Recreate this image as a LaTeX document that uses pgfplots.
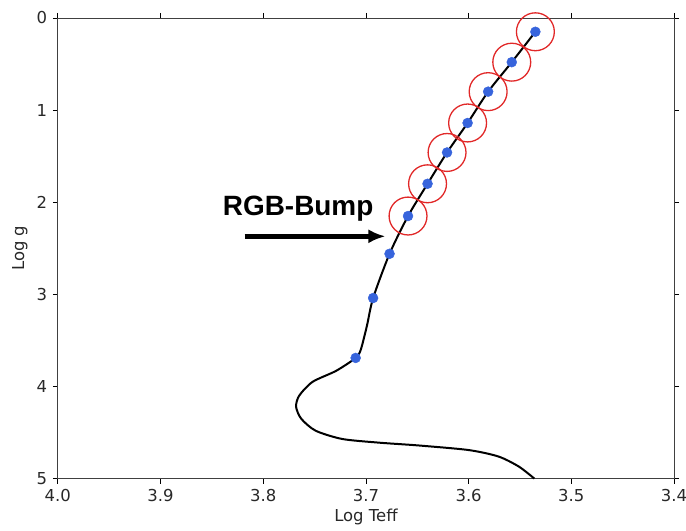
\documentclass[border=0pt]{standalone}
\usepackage{pgfplots}
\pgfplotsset{compat=1.18}
\usetikzlibrary{arrows.meta}
\usepackage{fontspec}
\setmainfont{DejaVu Sans}
\newfontfamily\arialfont{Liberation Sans}
\definecolor{dotblue}{RGB}{55,100,220}
\definecolor{ringred}{RGB}{225,40,40}
\definecolor{txtgray}{RGB}{40,40,40}
\begin{document}
\fontsize{16.5}{19}\selectfont
\begin{tikzpicture}
\begin{axis}[
  name=ax,
  scale only axis,
  width=618pt, height=462pt,
  x dir=reverse, y dir=reverse,
  xmin=3.4, xmax=4.0, ymin=0, ymax=5,
  xtick={3.4,3.5,3.6,3.7,3.8,3.9,4.0},
  ytick={0,1,2,3,4,5},
  xticklabel style={/pgf/number format/.cd,fixed,fixed zerofill,precision=1},
  /pgf/number format/assume math mode=true,
  tick align=outside,
  major tick length=5pt,
  tick style={black, line width=0.8pt},
  axis line style={black!75, line width=0.9pt},
  ticklabel style={font=\fontsize{16.5}{19}\selectfont, text=txtgray},
  xlabel={Log Teff}, ylabel={Log g},
  label style={font=\fontsize{16.5}{19}\selectfont, text=txtgray},
  xlabel style={yshift=4pt},
  ylabel style={yshift=-2pt},
  clip=false,
]
% evolutionary track
\addplot[black, line width=2pt, smooth, tension=0.45] coordinates {
 (3.535,0.15) (3.558,0.48) (3.581,0.80) (3.601,1.14) (3.621,1.46)
 (3.640,1.80) (3.659,2.15) (3.677,2.56) (3.693,3.04) (3.699,3.34)
 (3.705,3.60) (3.710,3.69) (3.729,3.83) (3.752,3.95) (3.765,4.10)
 (3.768,4.22) (3.763,4.35) (3.749,4.48) (3.723,4.57) (3.687,4.61)
 (3.649,4.64) (3.600,4.69) (3.571,4.76) (3.551,4.87) (3.536,5.0)
};
% blue points
\addplot[only marks, mark=*, mark size=5pt, color=dotblue, mark options={draw=dotblue, fill=dotblue}] coordinates {
 (3.535,0.15) (3.558,0.48) (3.581,0.80) (3.601,1.14) (3.621,1.46)
 (3.640,1.80) (3.659,2.15) (3.677,2.56) (3.693,3.04) (3.710,3.69)
};
% red circles
\addplot[only marks, mark=o, mark size=19pt, mark options={draw=ringred, line width=1.3pt}] coordinates {
 (3.535,0.15) (3.558,0.48) (3.581,0.80) (3.601,1.14) (3.621,1.46)
 (3.640,1.80) (3.659,2.15)
};
\draw[-{Latex[length=17pt,width=14pt]}, line width=4.5pt, black] (axis cs:3.818,2.37) -- (axis cs:3.681,2.37);
\node[font=\arialfont\bfseries\fontsize{28}{32}\selectfont, text=black] at (axis cs:3.766,2.07) {RGB-Bump};
\end{axis}
\pgfresetboundingbox
\path (ax.south west) ++(-58pt,-52pt) coordinate (bbl);
\path (ax.north east) ++(12pt,18pt) coordinate (btr);
\useasboundingbox (bbl) rectangle (btr);
\end{tikzpicture}
\end{document}
